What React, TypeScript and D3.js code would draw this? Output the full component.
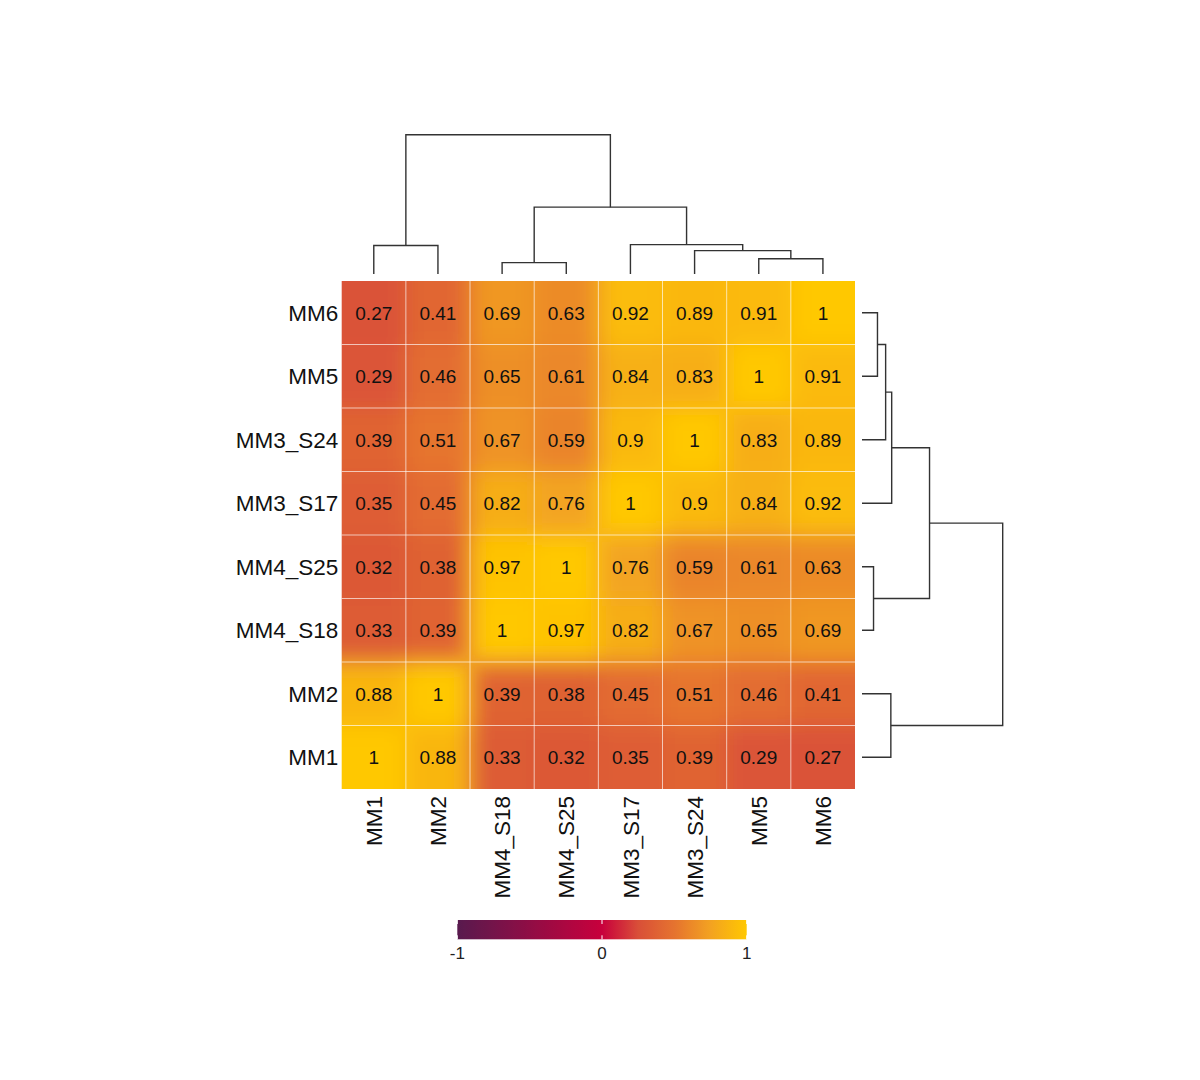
import React from "react";
import * as d3 from "d3";

// ---- Data ----
const labels = ["MM1", "MM2", "MM4_S18", "MM4_S25", "MM3_S17", "MM3_S24", "MM5", "MM6"];
const rowMM1 = [1, 0.88, 0.33, 0.32, 0.35, 0.39, 0.29, 0.27];
const rowMM2 = [0.88, 1, 0.39, 0.38, 0.45, 0.51, 0.46, 0.41];
const rowMM4_S18 = [0.33, 0.39, 1, 0.97, 0.82, 0.67, 0.65, 0.69];
const rowMM4_S25 = [0.32, 0.38, 0.97, 1, 0.76, 0.59, 0.61, 0.63];
const rowMM3_S17 = [0.35, 0.45, 0.82, 0.76, 1, 0.9, 0.84, 0.92];
const rowMM3_S24 = [0.39, 0.51, 0.67, 0.59, 0.9, 1, 0.83, 0.89];
const rowMM5 = [0.29, 0.46, 0.65, 0.61, 0.84, 0.83, 1, 0.91];
const rowMM6 = [0.27, 0.41, 0.69, 0.63, 0.92, 0.89, 0.91, 1];
const matrix = [rowMM1, rowMM2, rowMM4_S18, rowMM4_S25, rowMM3_S17, rowMM3_S24, rowMM5, rowMM6];

// hclust-style merges: negative = leaf index (1-based), positive = earlier merge (1-based)
const mergeLeft = [-3, -7, -6, -1, -5, 1, 4];
const mergeRight = [-4, -8, 2, -2, 3, 5, 6];
const mergeHeight = [0.082, 0.11, 0.168, 0.205, 0.211, 0.48, 1.0];

const colorStops = [-1, 0, 0.25, 0.5, 0.75, 1];
const colorValues = ["#581a4e", "#c8003c", "#d94f38", "#e5732f", "#f3a221", "#ffc800"];
const legendTicks = [-1, 0, 1];

const FONT = "'Liberation Sans', Arial, Helvetica, sans-serif";

export default function App() {
  const W = 1200, H = 1080;
  const hm = { x0: 341.7, x1: 855, y0: 281, y1: 789 };
  const n = labels.length;

  const x = d3.scaleBand<string>().domain(labels).range([hm.x0, hm.x1]);
  const rowOrder = labels.slice().reverse();
  const y = d3.scaleBand<string>().domain(rowOrder).range([hm.y0, hm.y1]);
  const bw = x.bandwidth();
  const bh = y.bandwidth();

  const color = d3.scaleLinear<string>().domain(colorStops).range(colorValues).interpolate(d3.interpolateRgb).clamp(true);

  const val = (r: string, c: string) => matrix[labels.indexOf(r)][labels.indexOf(c)];

  // extended grid for blur (edge replication)
  const ext: { key: string; x: number; y: number; fill: string }[] = [];
  for (let i = -1; i <= n; i++) {
    for (let j = -1; j <= n; j++) {
      const ci = Math.max(0, Math.min(n - 1, i));
      const rj = Math.max(0, Math.min(n - 1, j));
      const cl = labels[ci];
      const rl = rowOrder[rj];
      ext.push({
        key: `${i}-${j}`,
        x: (x(cl) as number) + (i - ci) * bw,
        y: (y(rl) as number) + (j - rj) * bh,
        fill: color(val(rl, cl)),
      });
    }
  }

  // dendrograms
  const hTop = d3.scaleLinear().domain([0, 1]).range([274, 134.7]);
  const hRight = d3.scaleLinear().domain([0, 1]).range([862, 1002.7]);

  const buildPaths = (pos: (l: string) => number, hs: d3.ScaleLinear<number, number>, horizontal: boolean) => {
    const nodePos: number[] = [];
    const paths: string[] = [];
    const getNode = (id: number) => {
      if (id < 0) return { p: pos(labels[-id - 1]), h: 0 };
      return { p: nodePos[id - 1], h: mergeHeight[id - 1] };
    };
    mergeLeft.forEach((l, k) => {
      const a = getNode(l);
      const b = getNode(mergeRight[k]);
      const h = mergeHeight[k];
      nodePos[k] = (a.p + b.p) / 2;
      if (!horizontal) {
        paths.push(`M${a.p},${hs(a.h)}V${hs(h)}H${b.p}V${hs(b.h)}`);
      } else {
        paths.push(`M${hs(a.h)},${a.p}H${hs(h)}V${b.p}H${hs(b.h)}`);
      }
    });
    return paths;
  };
  const topPaths = buildPaths((l) => (x(l) as number) + bw / 2, hTop, false);
  const rightPaths = buildPaths((l) => (y(l) as number) + bh / 2, hRight, true);

  // legend
  const lg = { x0: 457.3, x1: 746.7, y0: 920, y1: 939.3 };
  const lx = d3.scaleLinear().domain([-1, 1]).range([lg.x0, lg.x1]);
  const gradStops = d3.range(0, 41).map((k) => -1 + k * 0.05);

  return (
    <svg width={W} height={H} style={{ position: "absolute", left: 0, top: 0, background: "#fff" }} fontFamily={FONT}>
      <defs>
        <filter id="hmblur" x="-0.1" y="-0.1" width="1.2" height="1.2">
          <feGaussianBlur stdDeviation="11" />
        </filter>
        <clipPath id="hmclip">
          <rect x={hm.x0} y={hm.y0} width={hm.x1 - hm.x0} height={hm.y1 - hm.y0} />
        </clipPath>
        <linearGradient id="lgrad" x1="0" x2="1" y1="0" y2="0">
          {gradStops.map((v, k) => (
            <stop key={k} offset={(v + 1) / 2} stopColor={color(v)} />
          ))}
        </linearGradient>
      </defs>

      <g clipPath="url(#hmclip)">
        <g filter="url(#hmblur)">
          {ext.map((c) => (
            <rect key={c.key} x={c.x} y={c.y} width={bw + 0.5} height={bh + 0.5} fill={c.fill} />
          ))}
        </g>
      </g>

      {/* grid lines */}
      <g stroke="#ffffff" strokeOpacity={0.65} strokeWidth={1}>
        {labels.slice(1).map((l) => (
          <line key={"v" + l} x1={x(l)} x2={x(l)} y1={hm.y0} y2={hm.y1} />
        ))}
        {rowOrder.slice(1).map((l) => (
          <line key={"h" + l} x1={hm.x0} x2={hm.x1} y1={y(l)} y2={y(l)} />
        ))}
      </g>

      {/* cell values */}
      <g fontSize={19} fill="#111" textAnchor="middle">
        {rowOrder.map((r) =>
          labels.map((c) => (
            <text key={r + c} x={(x(c) as number) + bw / 2} y={(y(r) as number) + bh / 2 + 7}>
              {String(val(r, c))}
            </text>
          ))
        )}
      </g>

      {/* row labels */}
      <g fontSize={22.5} fill="#111" textAnchor="end">
        {rowOrder.map((r) => (
          <text key={r} x={338.3} y={(y(r) as number) + bh / 2 + 8.2}>
            {r}
          </text>
        ))}
      </g>

      {/* column labels */}
      <g fontSize={22.5} fill="#111" textAnchor="end">
        {labels.map((c) => {
          const cx = (x(c) as number) + bw / 2;
          return (
            <text key={c} transform={`translate(${cx + 8.2},${796}) rotate(-90)`}>
              {c}
            </text>
          );
        })}
      </g>

      {/* dendrograms */}
      <g fill="none" stroke="#333" strokeWidth={1.4}>
        {topPaths.map((d, k) => (
          <path key={"t" + k} d={d} />
        ))}
        {rightPaths.map((d, k) => (
          <path key={"r" + k} d={d} />
        ))}
      </g>

      {/* legend */}
      <rect x={lg.x0} y={lg.y0} width={lg.x1 - lg.x0} height={lg.y1 - lg.y0} fill="url(#lgrad)" />
      <g stroke="#fff" strokeWidth={1}>
        {legendTicks.map((t) => (
          <g key={t}>
            <line x1={lx(t)} x2={lx(t)} y1={lg.y0} y2={lg.y0 + 4} />
            <line x1={lx(t)} x2={lx(t)} y1={lg.y1 - 4} y2={lg.y1} />
          </g>
        ))}
      </g>
      <g fontSize={17} fill="#222" textAnchor="middle">
        {legendTicks.map((t) => (
          <text key={t} x={lx(t)} y={959}>
            {String(t)}
          </text>
        ))}
      </g>
    </svg>
  );
}
